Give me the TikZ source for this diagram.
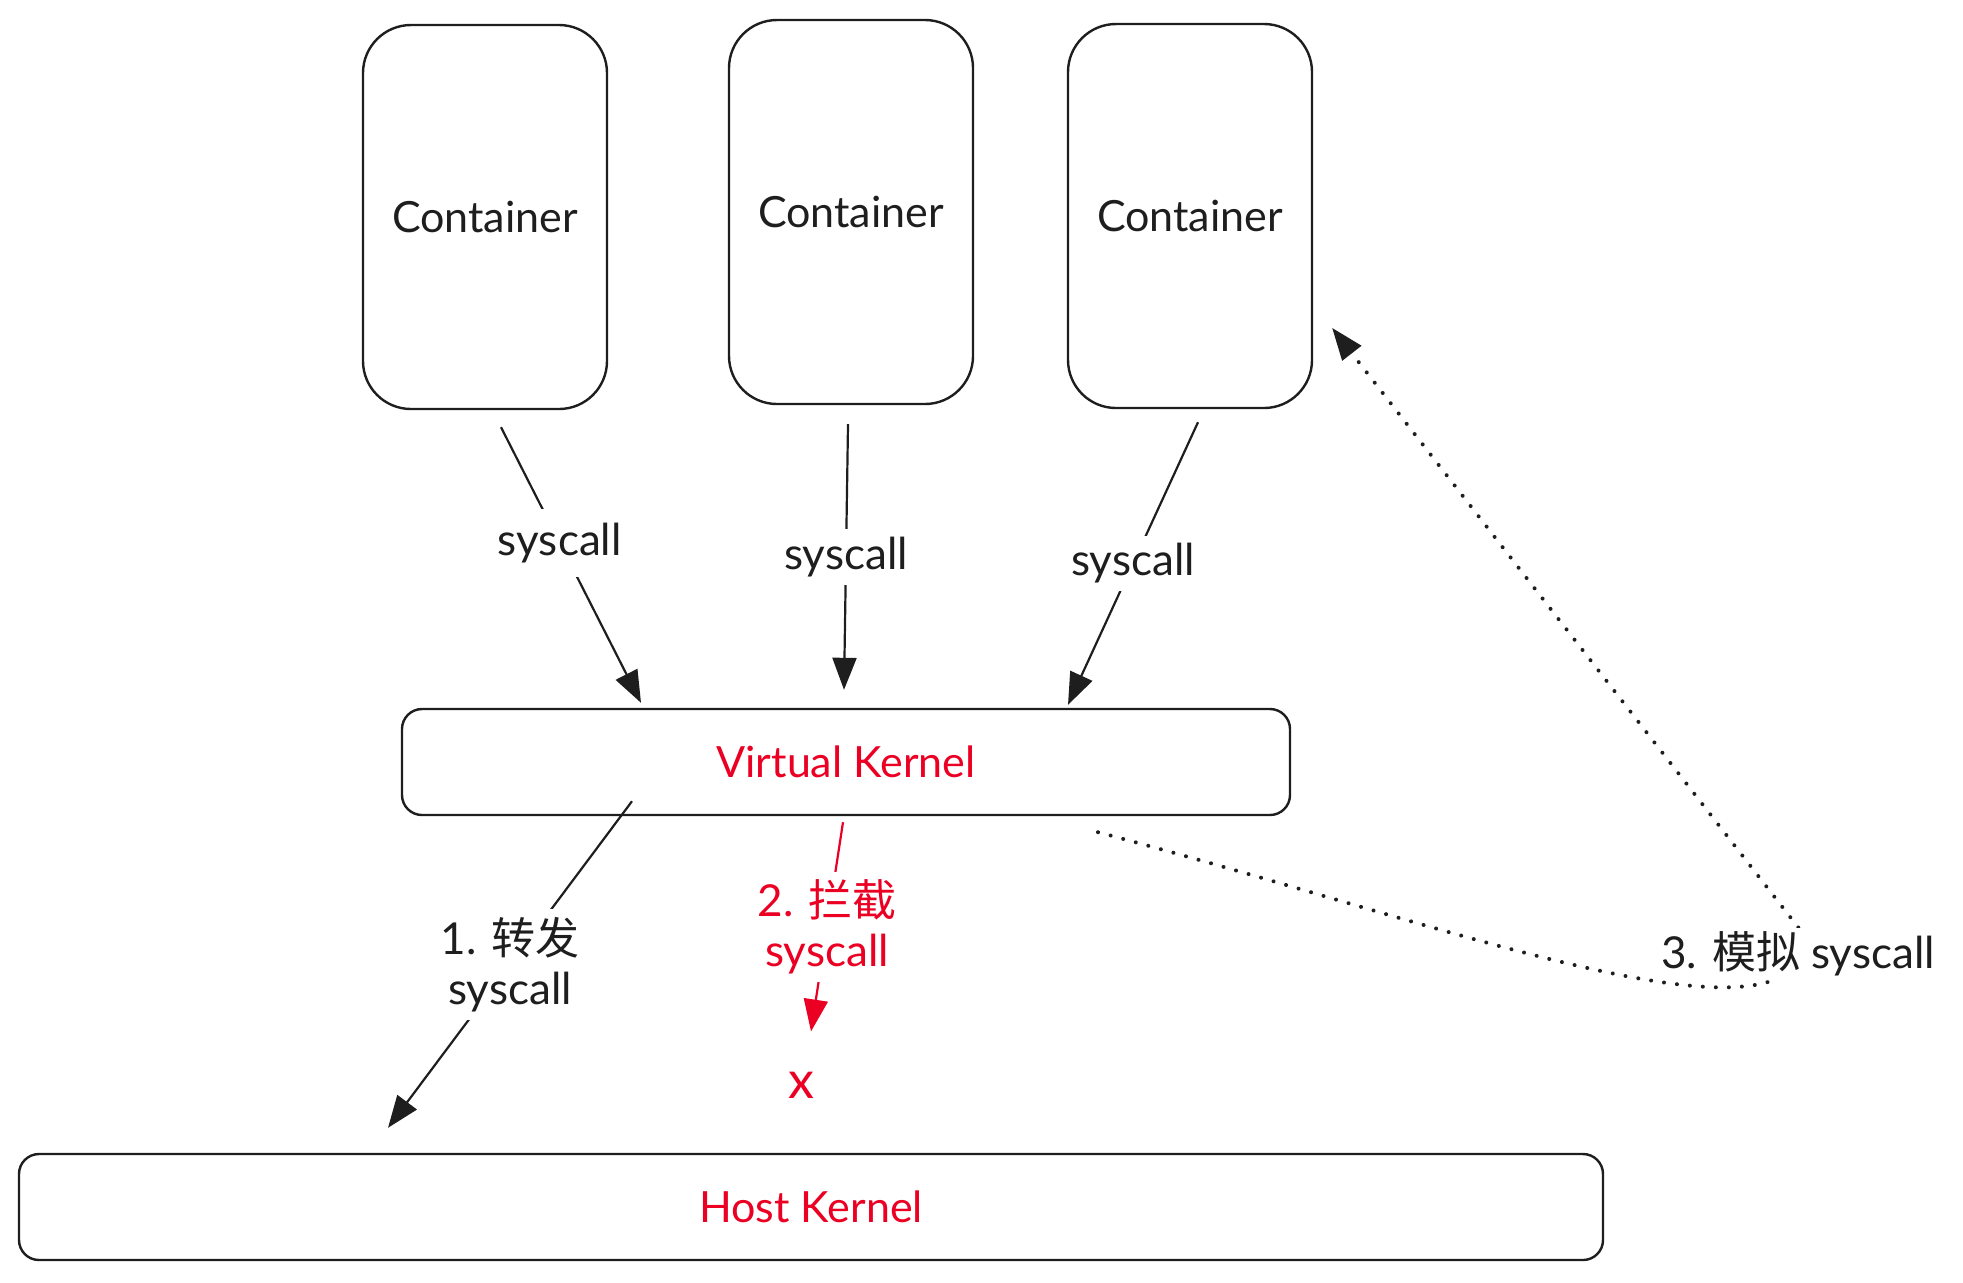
\documentclass[tikz,border=0pt]{standalone}
\usepackage{fontspec}
\setmainfont{Lato}
\newfontfamily\cjk{Noto Sans CJK SC}
\usepackage{xcolor}
\definecolor{skInk}{RGB}{30,30,30}
\definecolor{skRed}{RGB}{235,0,35}
\usepackage{tikz}
\usetikzlibrary{
    arrows.meta,
    positioning,
    calc
}

\begin{document}
\begin{tikzpicture}[
    x=0.5pt, y=-0.5pt,
    containerNode/.style={
        rectangle, rounded corners=24pt,
        draw=skInk, line width=1.2pt, text=skInk,
        font=\fontsize{21.5}{26}\selectfont,
        minimum width=122pt, minimum height=192pt
    },
    kernelNode/.style={
        rectangle, rounded corners=10pt,
        draw=skInk, line width=1.2pt, text=skRed,
        font=\fontsize{21.5}{26}\selectfont,
        minimum height=53pt
    },
    flowArrow/.style={
        -{Triangle[length=16pt, width=12pt]}, line width=1.1pt, draw=skInk
    },
    blockArrow/.style={
        -{Triangle[length=16pt, width=12pt]}, line width=1.1pt, draw=skRed
    },
    emuArrow/.style={
        -{Triangle[length=16pt, width=12pt, line width=1.1pt]}, line width=2pt, draw=skInk,
        line cap=round, dash pattern=on 0.01pt off 6.5pt
    },
    labelNode/.style={
        fill=white, text=skInk, align=center, inner sep=4pt,
        font=\fontsize{22}{25}\selectfont
    }
]
    \useasboundingbox (0,0) rectangle (1963,1282);

    % Containers
    \node[containerNode] (c1) at (485,217) {Container};
    \node[containerNode] (c2) at (851,212) {Container};
    \node[containerNode] (c3) at (1190,216) {Container};

    % Kernels
    \node[kernelNode, minimum width=444pt] (vk) at (846,762) {Virtual Kernel};
    \node[kernelNode, minimum width=792pt] (hk) at (811,1207) {Host Kernel};

    % Blocked end
    \node[text=skRed, inner sep=0pt, font=\fontsize{26}{26}\selectfont] (cross) at (801,1085) {x};

    % Syscalls into the virtual kernel
    \draw[flowArrow] ($(c1.south)+(16,17)$) -- node[labelNode, pos=0.42, inner ysep=7pt] {syscall} ($(vk.north)+(-205,-5)$);
    \draw[flowArrow] ($(c2.south)+(-3,19)$) -- node[labelNode] {syscall} ($(vk.north)+(-2,-18)$);
    \draw[flowArrow] ($(c3.south)+(8,13)$) -- node[labelNode] {syscall} ($(vk.north)+(222,-3)$);

    % Forwarded / blocked
    \draw[flowArrow] ($(vk.south)+(-214,-15)$) -- node[labelNode] {1. {\cjk 转发}\\syscall} ($(hk.north)+(-423,-25)$);
    \draw[blockArrow] ($(vk.south)+(-3,6)$) -- node[labelNode, text=skRed] {2. {\cjk 拦截}\\syscall} ($(cross.north)+(10,-40)$);

    % Emulated syscall back to the container
    \draw[emuArrow] ($(vk.south)+(252,16)$) .. controls (1450,925) and (1790,1060) .. (1808,940) -- ($(c3.east)+(19,112)$);
    \node[labelNode, inner sep=2pt] (emu) at (1798,954) {3. {\cjk 模拟} syscall};

\end{tikzpicture}
\end{document}
